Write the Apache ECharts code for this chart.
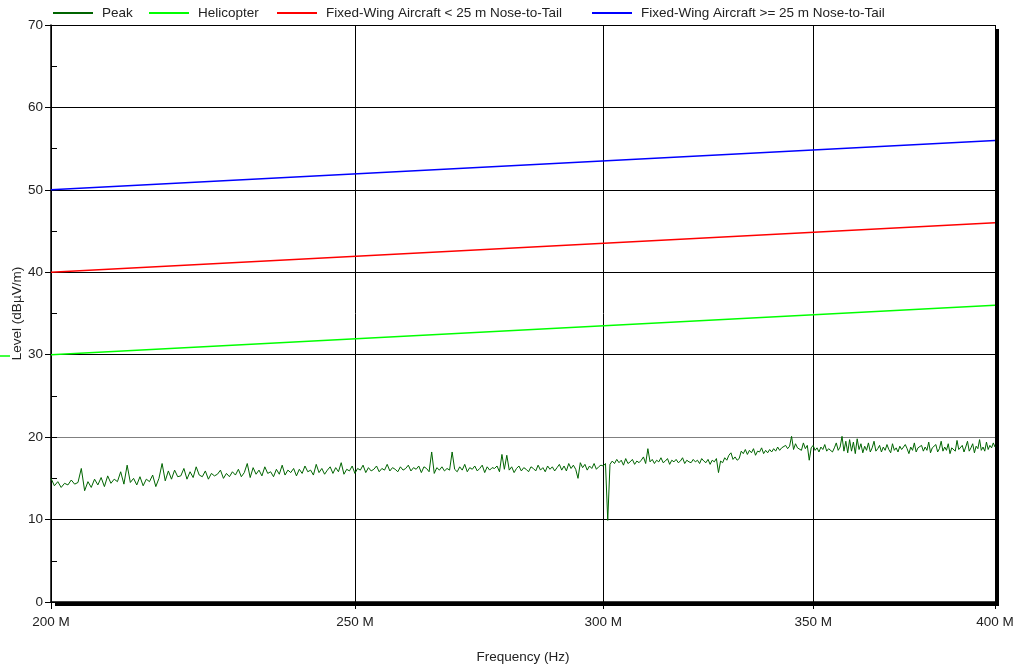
<!DOCTYPE html>
<html><head><meta charset="utf-8">
<script src="https://cdn.jsdelivr.net/npm/echarts@6/dist/echarts.min.js"></script>
<style>html,body{margin:0;padding:0;background:#fff}#c{width:1017px;height:671px}</style>
</head><body><div id="c"></div>
<script>
// ---- data (frequencies in MHz, levels in dBµV/m) ----
const xTickValues = [200, 250, 300, 350, 400];
const yTickValues = [0, 10, 20, 30, 40, 50, 60, 70];

const limitFreqs = [200, 400];
const helicopterLevels = [30, 36];
const fixedWingSmallLevels = [40, 46];
const fixedWingLargeLevels = [50, 56];

// Peak trace, sampled every 0.5 MHz from 200 MHz to 400 MHz
const peakStartMHz = 200;
const peakStepMHz = 0.5;
const peakLevels = [
  15.0,14.1,14.6,13.9,14.4,14.2,14.8,14.3,14.5,16.2,13.5,14.6,13.9,14.9,14.2,15.1,14.0,15.3,14.4,14.9,
  14.6,15.8,14.3,16.6,14.5,15.0,14.2,15.2,14.1,14.9,14.6,15.4,14.0,15.0,16.8,14.7,15.9,14.9,16.0,15.2,
  15.3,16.2,14.9,15.8,15.1,16.4,15.4,15.2,15.9,14.9,15.6,15.3,15.5,16.0,15.0,15.6,15.2,15.8,15.4,16.1,
  15.2,15.7,16.8,15.1,16.3,15.5,16.0,15.3,16.4,15.6,15.8,15.2,16.1,15.5,16.6,15.4,16.0,15.7,16.2,15.3,
  16.1,15.6,16.5,15.8,16.0,15.4,16.7,15.7,16.2,15.5,16.0,16.4,15.6,16.3,15.8,16.9,15.5,16.1,15.9,16.5,
  15.6,16.2,16.0,16.6,15.7,16.3,15.9,16.1,16.5,15.8,16.2,16.0,16.7,15.9,16.3,16.1,15.8,16.4,16.0,16.2,
  16.6,15.9,16.3,16.1,16.5,15.7,16.4,16.2,15.8,18.2,15.6,16.3,16.0,16.4,15.9,16.2,16.0,18.2,16.1,15.8,
  16.4,16.0,16.7,15.8,16.3,16.1,16.5,15.9,16.2,16.6,15.7,16.4,16.0,16.3,16.2,16.5,15.8,17.9,16.1,17.8,
  16.0,16.4,15.7,16.2,16.5,15.9,16.3,16.1,15.8,16.4,16.2,15.9,16.6,16.0,16.3,15.8,16.5,16.1,16.4,15.9,
  16.3,16.7,16.0,16.5,15.9,16.8,16.2,16.6,16.1,15.0,16.9,16.3,16.7,16.0,16.5,16.2,16.8,16.1,16.4,16.6,
  16.5,16.8,9.9,16.7,17.1,16.8,17.3,16.9,17.2,16.6,17.4,16.8,17.0,17.3,16.7,17.1,16.9,17.2,17.6,16.8,
  18.6,17.0,17.3,16.8,17.2,17.0,17.5,16.9,17.1,17.4,16.7,17.2,17.0,17.3,16.9,17.1,17.5,16.8,17.2,17.0,
  16.9,17.3,17.0,17.2,16.8,17.4,17.1,16.9,17.3,16.7,17.2,17.0,17.4,15.7,17.1,16.9,17.5,17.2,17.8,18.1,
  17.3,17.6,17.2,17.4,18.3,18.0,18.5,17.9,18.4,18.1,18.6,17.8,18.3,18.2,18.7,18.0,18.4,18.1,18.5,18.2,
  18.6,18.3,18.8,18.4,18.7,18.5,19.0,18.6,18.9,20.1,18.5,19.2,18.7,18.9,18.4,19.3,18.6,19.0,17.2,18.7,
  19.0,18.4,18.7,18.2,18.8,18.5,19.1,18.3,18.6,18.8,18.2,18.7,19.3,18.4,18.8,20.1,18.3,19.5,18.1,19.7,
  18.3,19.4,18.0,19.8,18.5,19.2,18.1,18.9,18.4,19.3,18.2,18.7,19.5,18.3,18.6,19.0,18.2,18.8,18.4,19.1,
  18.5,18.1,19.2,18.4,18.7,18.2,18.9,18.5,18.3,19.1,18.6,18.0,18.8,18.4,19.3,18.2,18.7,18.5,19.0,18.3,
  18.8,18.4,19.4,18.1,18.7,18.5,19.1,18.2,18.6,19.5,18.3,18.8,18.4,19.2,18.0,18.7,18.9,18.3,19.6,18.5,
  18.4,19.0,18.2,18.8,19.5,18.3,18.7,19.2,18.1,18.9,18.6,19.7,18.4,18.8,18.3,19.4,18.5,19.0,18.7,19.3,
  18.8
];

const seriesNames = ['Peak', 'Helicopter', 'Fixed-Wing Aircraft < 25 m Nose-to-Tail', 'Fixed-Wing Aircraft >= 25 m Nose-to-Tail'];

// ---- build ----
const FONT = 'Liberation Sans, Arial, sans-serif';
const peakData = peakLevels.map((v, i) => [peakStartMHz + i * peakStepMHz, v]);
const pair = (levels) => limitFreqs.map((f, i) => [f, levels[i]]);

const chart = echarts.init(document.getElementById('c'), null, {renderer: 'canvas'});

const legendLefts = [52, 148, 276, 591];
const legends = seriesNames.map((n, i) => ({
  data: [n], left: legendLefts[i], top: 6, padding: 0,
  itemWidth: 40, itemHeight: 14,
  itemStyle: {opacity: 0},
  textStyle: {fontFamily: FONT, fontSize: 13.5, color: '#222', padding: [0, 0, 0, 4]}
}));

chart.setOption({
  animation: false,
  backgroundColor: '#fff',
  legend: legends,
  grid: {
    left: 51, right: 22, top: 25, bottom: 69, show: true,
    outerBoundsMode: 'none', containLabel: false,
    backgroundColor: '#fff', borderWidth: 0, borderColor: 'transparent',
    shadowColor: '#000', shadowOffsetX: 4, shadowOffsetY: 4, shadowBlur: 0
  },
  xAxis: [{
    type: 'log', logBase: 10, min: 200, max: 400,
    name: 'Frequency (Hz)', nameLocation: 'middle', nameGap: 48, nameMoveOverlap: false,
    nameTextStyle: {fontFamily: FONT, fontSize: 13.5, color: '#222'},
    axisLine: {show: true, lineStyle: {color: '#000', width: 1.5}},
    axisTick: {show: true, length: 7, customValues: xTickValues, lineStyle: {color: '#000'}},
    axisLabel: {customValues: xTickValues, formatter: v => Math.round(v) + ' M', fontFamily: FONT, fontSize: 13.5, color: '#222', margin: 13},
    splitLine: {show: true, lineStyle: {color: '#000', width: 1}},
    minorTick: {show: false}, minorSplitLine: {show: false}
  }, {
    type: 'log', logBase: 10, min: 200, max: 400, position: 'top',
    axisLine: {show: true, onZero: false, lineStyle: {color: '#000', width: 1}},
    axisTick: {show: false}, axisLabel: {show: false}, splitLine: {show: false}
  }],
  yAxis: [{
    type: 'value', min: 0, max: 70, interval: 10,
    name: 'Level (dBµV/m)', nameLocation: 'middle', nameGap: 27, nameMoveOverlap: false,
    nameTextStyle: {fontFamily: FONT, fontSize: 13.5, color: '#222'},
    axisLine: {show: true, lineStyle: {color: '#000', width: 1.5}},
    axisTick: {show: true, length: 6, lineStyle: {color: '#000'}},
    axisLabel: {fontFamily: FONT, fontSize: 13.5, color: '#222', margin: 8},
    splitLine: {show: true, lineStyle: {color: ['#000', '#000', '#808080', '#000', '#000', '#000', '#000', '#000'], width: 1}}
  }, {
    type: 'value', min: 0, max: 70, interval: 5, position: 'left', offset: 0,
    axisLine: {show: false}, axisLabel: {show: false}, splitLine: {show: false},
    axisTick: {show: true, inside: true, length: 6, lineStyle: {color: '#000'}}
  }],
  graphic: [{
    type: 'line', shape: {x1: 0, y1: 356, x2: 10, y2: 356},
    style: {stroke: '#00ff00', lineWidth: 1.5}
  }],
  series: [
    {name: seriesNames[0], type: 'line', data: peakData, symbol: 'none', lineStyle: {color: '#006400', width: 1}, itemStyle: {color: '#006400'}, z: 5},
    {name: seriesNames[1], type: 'line', data: pair(helicopterLevels), symbol: 'none', lineStyle: {color: '#00ff00', width: 1.5}, itemStyle: {color: '#00ff00'}},
    {name: seriesNames[2], type: 'line', data: pair(fixedWingSmallLevels), symbol: 'none', lineStyle: {color: '#ff0000', width: 1.5}, itemStyle: {color: '#ff0000'}},
    {name: seriesNames[3], type: 'line', data: pair(fixedWingLargeLevels), symbol: 'none', lineStyle: {color: '#0000ff', width: 1.5}, itemStyle: {color: '#0000ff'}}
  ]
});
</script></body></html>
